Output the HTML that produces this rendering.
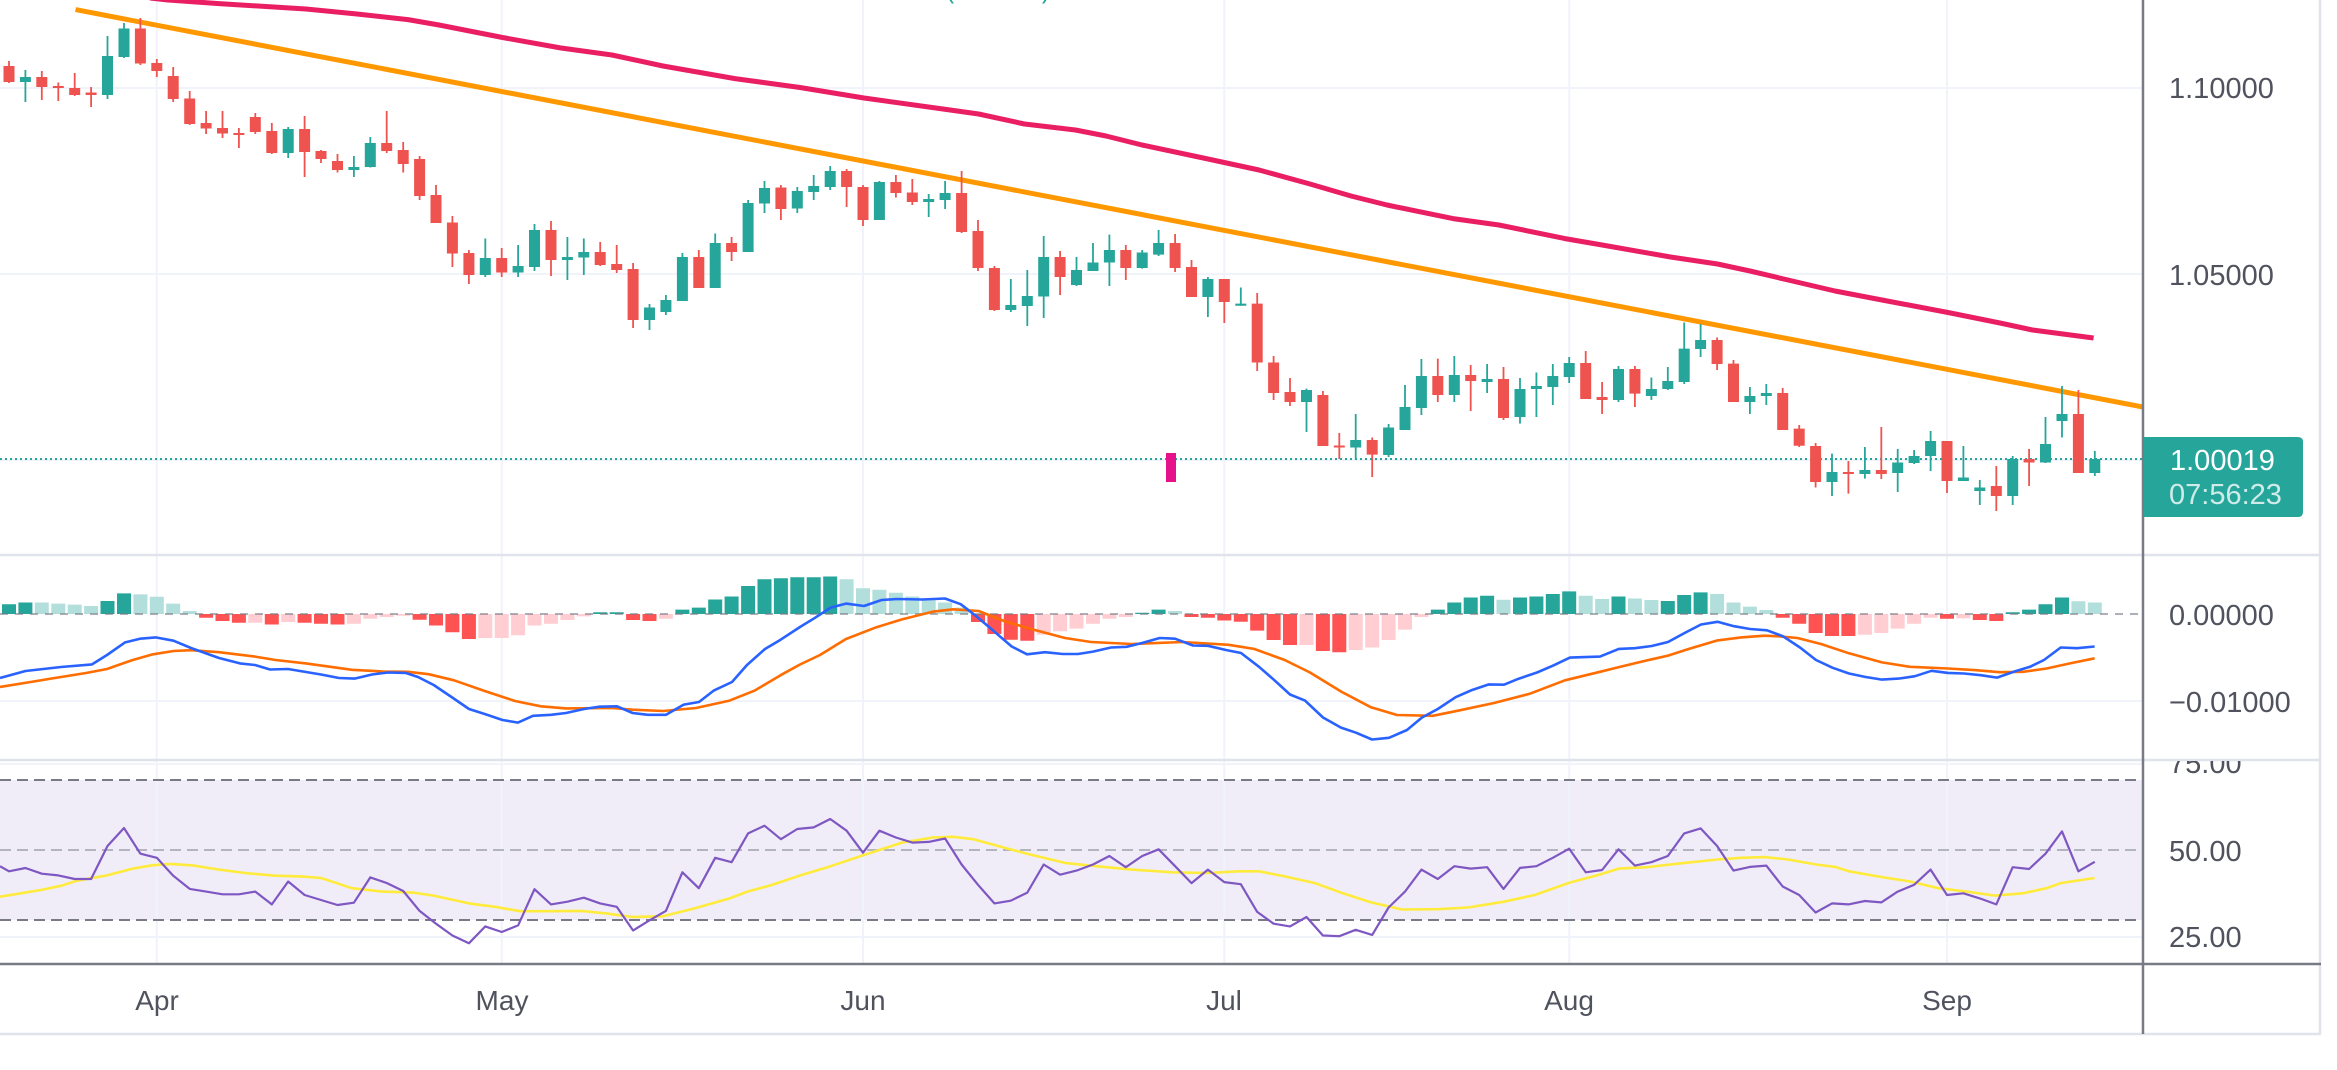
<!DOCTYPE html>
<html><head><meta charset="utf-8"><style>html,body{margin:0;padding:0;background:#fff;overflow:hidden}svg{display:block}text{font-family:"Liberation Sans",Arial,sans-serif}</style></head><body>
<svg width="2337" height="1070" viewBox="0 0 2337 1070" xmlns="http://www.w3.org/2000/svg">
<defs>
<clipPath id="cm"><rect x="0" y="0" width="2143" height="554"/></clipPath>
<clipPath id="cr"><rect x="2144" y="761" width="180" height="203"/></clipPath>
</defs>
<rect width="2337" height="1070" fill="#fff"/>
<rect x="0" y="780" width="2143" height="140" fill="#7e57c2" fill-opacity="0.11"/>
<g stroke="#f0f3fa" stroke-width="2">
<path d="M156.8 0V964M501.7 0V964M863 0V964M1224.3 0V964M1569.2 0V964M1947 0V964"/>
<path d="M0 88H2143M0 274H2143M0 460H2143M0 701H2143M0 764H2143M0 937H2143"/>
</g>
<g fill="none" stroke-width="2">
<path d="M0 780H2143M0 920H2143" stroke="#787b86" stroke-dasharray="11 6"/>
<path d="M0 850H2143" stroke="#b2b5be" stroke-dasharray="11 6"/>
</g>
<path d="M0 555H2321M0 760H2321" stroke="#e0e3eb" stroke-width="2.5"/>
<path d="M2320 0V1034M0 1034H2321" stroke="#e0e3eb" stroke-width="2.5"/>
<g clip-path="url(#cm)">
<text x="946" y="-2" font-size="26" fill="#26a69a" textLength="104" lengthAdjust="spacingAndGlyphs">(1.00019)</text>
<polyline fill="none" stroke="#e91e63" stroke-width="5" stroke-linejoin="round" points="150,-2 168,0 219,3.6 306,9 357,14 408,19.6 439,25 502.5,37.5 561,48 612,55 663,66 735,78.6 800,87.5 864,98 943,109 978.6,114 1024.5,124 1075.5,130 1106,136 1142,145 1208,159 1259,170 1310,184 1351,196 1387,205 1453,218.6 1499,225 1565,238.6 1600,244.6 1670.5,257 1717.5,264 1750,271 1788,280 1835,291 1882,300 1948,312.5 2000,323 2032.5,330 2093.6,338"/>
<line x1="75.5" y1="9.6" x2="2143" y2="407" stroke="#ff9800" stroke-width="5"/>
<line x1="0" y1="459" x2="2143" y2="459" stroke="#26a69a" stroke-width="2" stroke-dasharray="2 3"/>
<path stroke="#26a69a" stroke-width="1.8" fill="none" d="M25.4 70V102M107.5 36V99M124 23V58M288.2 127V158M353.9 156V177M370.3 137V167.5M485.3 238.5V277M518.1 245V277M534.5 224V271M567.4 237V280M583.8 238.5V275M649.5 304V330M665.9 295V315M682.4 253V301M715.2 233.5V288M748.1 200V252M764.5 181V213M797.3 187V213M813.7 175V200M830.2 166V190M879.4 181V220M928.7 194V217M945.1 181V209M1010.8 279V312M1027.3 270V326M1043.7 236V318M1076.5 257V286M1093 243V271M1109.4 234.6V286M1142.2 250V268.6M1158.6 230V256M1207.9 277V317M1240.8 287.5V305.7M1306.5 388.6V432M1355.7 414V459M1388.6 424V457M1405 385V430M1421.4 359V415M1454.3 356V402M1487.1 364V393M1520 378V423.6M1536.4 372.5V417M1552.8 364V405M1569.2 357V383M1618.5 366V402M1651.4 377.5V400M1667.8 367V390M1684.2 322.5V384M1700.6 324V357M1749.9 387V414M1766.3 384V405M1832 453.6V496M1864.9 447V478.6M1897.7 449V492M1914.1 450V464M1930.6 431V471M1963.4 446V481M1979.8 480V505M2012.7 456V505M2045.5 417V463M2062 386V437.5M2094.8 451V476"/>
<path fill="#26a69a" d="M19.9 77h11V82h-11ZM102 56h11V95h-11ZM118.5 28.5h11V57h-11ZM282.7 129h11V153h-11ZM348.4 167h11V170h-11ZM364.8 143h11V167h-11ZM479.8 258h11V275h-11ZM512.6 266h11V272.5h-11ZM529 230h11V267h-11ZM561.9 257h11V260h-11ZM578.3 252h11V257.5h-11ZM644 307.5h11V320h-11ZM660.4 300h11V312h-11ZM676.9 257h11V301h-11ZM709.7 243h11V288h-11ZM742.6 203h11V252h-11ZM759 188h11V203.5h-11ZM791.8 191h11V208.5h-11ZM808.2 186h11V192h-11ZM824.7 171h11V187h-11ZM873.9 182h11V220h-11ZM923.2 199h11V202h-11ZM939.6 193h11V200h-11ZM1005.3 305h11V310h-11ZM1021.8 296h11V306h-11ZM1038.2 257h11V296.5h-11ZM1071 270h11V285h-11ZM1087.5 262.5h11V271h-11ZM1103.9 250h11V262.5h-11ZM1136.7 252.5h11V268h-11ZM1153.1 243h11V254.6h-11ZM1202.4 279h11V297h-11ZM1235.3 303.6h11V305.7h-11ZM1301 390h11V402h-11ZM1350.2 440h11V447.5h-11ZM1383.1 427.5h11V455h-11ZM1399.5 407h11V430h-11ZM1415.9 376h11V408h-11ZM1448.8 375h11V395h-11ZM1481.6 379h11V382h-11ZM1514.5 389h11V417h-11ZM1530.9 386h11V389h-11ZM1547.3 376h11V387h-11ZM1563.7 363h11V377h-11ZM1613 369h11V400h-11ZM1645.9 389h11V396h-11ZM1662.3 381h11V389h-11ZM1678.7 348.6h11V382h-11ZM1695.1 340h11V349h-11ZM1744.4 396h11V402h-11ZM1760.8 393h11V396h-11ZM1826.5 472h11V482h-11ZM1859.4 470h11V474h-11ZM1892.2 462.5h11V473h-11ZM1908.6 456h11V463h-11ZM1925.1 441h11V456h-11ZM1957.9 477.5h11V481h-11ZM1974.3 487.5h11V491h-11ZM2007.2 459h11V496h-11ZM2040 444h11V462.5h-11ZM2056.5 414h11V421h-11ZM2089.3 459h11V473h-11Z"/>
<path stroke="#ef5350" stroke-width="1.8" fill="none" d="M9 61V83M41.8 71V100M58.3 82.5V101M74.7 73V96M91.1 87V107M140.4 18V65M156.8 59V77M173.2 67V102M189.7 91V125M206.1 111V134M222.5 111V138M238.9 128V148M255.3 113V134M271.8 123V154M304.6 116V177M321 150V163M337.5 154V172.5M386.7 111V153M403.2 142V172.5M419.6 156V200M436 185V223M452.4 216V267M468.9 250V284M501.7 248V277M551 221V276M600.2 242V266M616.7 245V273M633.1 263V328M698.8 250V288M731.6 237V261M780.9 185V220M846.6 169V207M863 185V226M895.9 175V197.5M912.3 179V205M961.6 171V233M978 220V271M994.4 266V311M1060.1 251V295M1125.8 245V280M1175.1 234V272M1191.5 260V297M1224.3 279V323M1257.2 293V371M1273.6 356V400M1290 378V406M1322.9 391V446M1339.3 433V459M1372.2 437.5V477M1437.8 358.6V402M1470.7 365V411M1503.5 367V420M1585.7 351V399M1602.1 382V414M1634.9 366V407M1717.1 337.5V370M1733.5 360V402M1782.7 388V430M1799.2 425V447M1815.6 443V487.5M1848.4 461V493.6M1881.3 427V479M1947 441V493M1996.3 466V511M2029.1 449V486M2078.4 390V473"/>
<path fill="#ef5350" d="M3.5 66h11V82h-11ZM36.3 77h11V87h-11ZM52.8 86h11V88h-11ZM69.2 88h11V95h-11ZM85.6 92.5h11V95h-11ZM134.9 28.5h11V63.5h-11ZM151.3 63h11V71h-11ZM167.7 76h11V99h-11ZM184.2 98.5h11V124h-11ZM200.6 123h11V128.5h-11ZM217 128h11V133.5h-11ZM233.4 133h11V135h-11ZM249.8 117h11V132h-11ZM266.3 131h11V153h-11ZM299.1 129h11V152h-11ZM315.5 151h11V159h-11ZM332 161h11V170h-11ZM381.2 143h11V151h-11ZM397.7 150h11V164h-11ZM414.1 159h11V196h-11ZM430.5 195h11V223h-11ZM446.9 222.5h11V253.5h-11ZM463.4 253h11V275h-11ZM496.2 258h11V272.5h-11ZM545.5 230h11V260h-11ZM594.7 252h11V265h-11ZM611.2 264h11V270h-11ZM627.6 269h11V320h-11ZM693.3 257h11V288h-11ZM726.1 243h11V252h-11ZM775.4 187.5h11V209h-11ZM841.1 171h11V187h-11ZM857.5 187h11V220h-11ZM890.4 182h11V193h-11ZM906.8 192.5h11V202h-11ZM956.1 193h11V232h-11ZM972.5 231h11V268h-11ZM988.9 268h11V310h-11ZM1054.6 257h11V277h-11ZM1120.3 250h11V268h-11ZM1169.6 243h11V268h-11ZM1186 267h11V297h-11ZM1218.8 279h11V302h-11ZM1251.7 303.6h11V362.5h-11ZM1268.1 362.5h11V393h-11ZM1284.5 392h11V402h-11ZM1317.4 395h11V446h-11ZM1333.8 445.5h11V447.5h-11ZM1366.7 440h11V454.6h-11ZM1432.3 376h11V395h-11ZM1465.2 375h11V381h-11ZM1498 379h11V418h-11ZM1580.2 363h11V399h-11ZM1596.6 397h11V400h-11ZM1629.4 369h11V393.6h-11ZM1711.6 340h11V364h-11ZM1728 363.6h11V402h-11ZM1777.2 393h11V430h-11ZM1793.7 428.6h11V445.7h-11ZM1810.1 446h11V482h-11ZM1842.9 472h11V474h-11ZM1875.8 470h11V474h-11ZM1941.5 441h11V481h-11ZM1990.8 486h11V496h-11ZM2023.6 459h11V462.5h-11ZM2072.9 414h11V473h-11Z"/>
<rect x="1166" y="453" width="10" height="29" fill="#e6128a"/>
</g>
<path fill="#26a69a" d="M2 604.2h14V614h-14ZM18.4 602.5h14V614h-14ZM100.5 601h14V614h-14ZM117 593.4h14V614h-14ZM593.2 612.3h14V614h-14ZM609.7 612.3h14V614h-14ZM675.4 609.6h14V614h-14ZM691.8 607.6h14V614h-14ZM708.2 599.5h14V614h-14ZM724.6 596.5h14V614h-14ZM741.1 586h14V614h-14ZM757.5 579.2h14V614h-14ZM773.9 578.2h14V614h-14ZM790.3 577.2h14V614h-14ZM806.7 577.2h14V614h-14ZM823.2 576.5h14V614h-14ZM1135.2 612.7h14V614h-14ZM1151.6 609.6h14V614h-14ZM1430.8 609.6h14V614h-14ZM1447.3 602.5h14V614h-14ZM1463.7 597.5h14V614h-14ZM1480.1 595.8h14V614h-14ZM1513 597.5h14V614h-14ZM1529.4 596.5h14V614h-14ZM1545.8 594h14V614h-14ZM1562.2 591.4h14V614h-14ZM1611.5 596.5h14V614h-14ZM1660.8 601h14V614h-14ZM1677.2 595h14V614h-14ZM1693.6 592.4h14V614h-14ZM2005.7 612.3h14V614h-14ZM2022.1 609.6h14V614h-14ZM2038.5 604.2h14V614h-14ZM2055 597.5h14V614h-14Z"/>
<path fill="#b2dfdb" d="M34.8 602.5h14V614h-14ZM51.3 603.6h14V614h-14ZM67.7 604.6h14V614h-14ZM84.1 606h14V614h-14ZM133.4 594.4h14V614h-14ZM149.8 596.8h14V614h-14ZM166.2 603.6h14V614h-14ZM182.7 611h14V614h-14ZM839.6 579.2h14V614h-14ZM856 588.3h14V614h-14ZM872.4 589.7h14V614h-14ZM888.9 592.7h14V614h-14ZM905.3 596.5h14V614h-14ZM921.7 598.5h14V614h-14ZM938.1 602.5h14V614h-14ZM954.6 607.6h14V614h-14ZM1168.1 611h14V614h-14ZM1496.5 599.8h14V614h-14ZM1578.7 595.8h14V614h-14ZM1595.1 599h14V614h-14ZM1627.9 598.5h14V614h-14ZM1644.4 600h14V614h-14ZM1710.1 594h14V614h-14ZM1726.5 602.5h14V614h-14ZM1742.9 606.6h14V614h-14ZM1759.3 610h14V614h-14ZM2071.4 601.2h14V614h-14ZM2087.8 602.5h14V614h-14Z"/>
<path fill="#ff5252" d="M199.1 614h14V617.8h-14ZM215.5 614h14V621h-14ZM231.9 614h14V622.8h-14ZM264.8 614h14V624.5h-14ZM297.6 614h14V622.8h-14ZM314 614h14V623.8h-14ZM330.5 614h14V624.5h-14ZM412.6 614h14V619.8h-14ZM429 614h14V625.5h-14ZM445.4 614h14V632.3h-14ZM461.9 614h14V639h-14ZM626.1 614h14V620h-14ZM642.5 614h14V621h-14ZM971 614h14V622h-14ZM987.4 614h14V634h-14ZM1003.8 614h14V639.7h-14ZM1020.3 614h14V640.7h-14ZM1184.5 614h14V617h-14ZM1200.9 614h14V617.8h-14ZM1217.3 614h14V620.5h-14ZM1233.8 614h14V621.8h-14ZM1250.2 614h14V630.6h-14ZM1266.6 614h14V640h-14ZM1283 614h14V645h-14ZM1315.9 614h14V651h-14ZM1332.3 614h14V652.2h-14ZM1775.7 614h14V617.8h-14ZM1792.2 614h14V623.8h-14ZM1808.6 614h14V633h-14ZM1825 614h14V636h-14ZM1841.4 614h14V636h-14ZM1940 614h14V618.8h-14ZM1972.8 614h14V620h-14ZM1989.3 614h14V621h-14Z"/>
<path fill="#ffcdd2" d="M248.3 614h14V622.8h-14ZM281.2 614h14V622h-14ZM346.9 614h14V623.8h-14ZM363.3 614h14V618.8h-14ZM379.7 614h14V617h-14ZM396.2 614h14V615.7h-14ZM478.3 614h14V638h-14ZM494.7 614h14V638h-14ZM511.1 614h14V635.3h-14ZM527.5 614h14V625.5h-14ZM544 614h14V623.8h-14ZM560.4 614h14V620h-14ZM576.8 614h14V616.4h-14ZM658.9 614h14V618.8h-14ZM1036.7 614h14V634.7h-14ZM1053.1 614h14V631.3h-14ZM1069.5 614h14V628.6h-14ZM1086 614h14V623.8h-14ZM1102.4 614h14V618.8h-14ZM1118.8 614h14V617h-14ZM1299.5 614h14V645h-14ZM1348.7 614h14V650h-14ZM1365.2 614h14V647.5h-14ZM1381.6 614h14V640h-14ZM1398 614h14V629.6h-14ZM1414.4 614h14V617h-14ZM1857.9 614h14V634.7h-14ZM1874.3 614h14V633h-14ZM1890.7 614h14V628.6h-14ZM1907.1 614h14V623.8h-14ZM1923.6 614h14V617.8h-14ZM1956.4 614h14V618.4h-14Z"/>
<line x1="0" y1="614" x2="2143" y2="614" stroke="#787b86" stroke-opacity="0.6" stroke-width="2" stroke-dasharray="8 7"/>
<polyline fill="none" stroke="#ff6d00" stroke-width="2.6" stroke-linejoin="round" points="0,687 30.6,682 51,678.6 86.7,672.9 107,669 132.7,660 153,654.3 173.5,651 191,650.2 219,652.2 255,656.6 275.5,660 306,663.4 352,669.8 382.6,671.5 408,671.8 428.6,674.2 454,680.3 484.7,691 515,701 540.8,706.3 566,708.4 612,708 632.6,709.7 663,711 696,708 729.6,700.6 755,690.4 780.6,675.2 800,664.5 820,655 846,639 876.5,627.2 902,619.4 932.6,611.7 953,609.3 978.6,611 1004,621 1029.6,628.6 1065,638 1091,642 1131.6,644 1182.6,642 1228.6,644.8 1254,648.9 1284.7,660 1310,672.5 1341,691.5 1371,707.3 1397,715 1432.7,715.8 1458,710.7 1494,703 1529.6,693.8 1565,680.3 1600,671.8 1623.5,666 1647,660.4 1668,655.6 1689,648.9 1717.5,640.4 1741,637.4 1764.5,635.7 1778.6,636.3 1797.5,638 1821,644 1849,653.3 1882,662.4 1910,666.8 1948,668.5 1976,670.2 1999.6,672.2 2023,671.8 2046.6,668.5 2070,663.4 2094.6,658.3"/>
<polyline fill="none" stroke="#2962ff" stroke-width="2.6" stroke-linejoin="round" points="0,678 25.5,671 61,667 92,664.4 107,655 125,642.4 140,638.7 155.6,637.4 173.5,640.7 191,648 219,658 240,663.4 255,665 270,669.5 288,669 321,674.5 339,678 354.6,678.6 372,674.5 388,672.5 405.6,672.9 418,677 433.7,685 451.5,697 469,709 484.7,714 502.5,720 518,722.6 533,715.8 551,714.8 566,713 584,709 599.5,706.7 617,706.3 632.6,713 648,714.8 666,714.8 683.7,704.6 699,702 714,690.4 732,682 747,665 765,649 780.6,639.7 800,627 815,617.8 830.6,607.6 846,603.6 864,606 881.6,600 897,599 922,599.5 945,598.5 960.7,604.2 976,616 994,631.3 1011.7,646.5 1027,654.3 1045,652.2 1062.7,654 1078,654 1093,651.6 1111,647.5 1126.5,646.8 1142,643 1159.7,638 1175,638.7 1193,645.5 1208,645.8 1226,650 1241,653 1259,666.8 1274.5,680.3 1290,694.5 1305,700.6 1323,717.5 1341,727.6 1356,732.7 1372,739.5 1389,737.8 1407,730 1422,717.5 1437.8,709 1455.6,697.2 1471,690.4 1488.8,684.4 1504,684.7 1519,678.6 1537,672.5 1552.6,665.8 1570,657.6 1600,656.6 1618.8,648.9 1635,648.2 1651.7,646 1668,642 1684.6,633 1701,624.5 1717.5,621.8 1734,626.2 1750,629 1767,630.3 1783,636.3 1800,647.5 1816,660 1832.7,667.8 1849,673.5 1865.6,677 1882,679.6 1898.5,678.6 1915,676.2 1931.5,670.8 1948,672.9 1964,673.5 1980.8,675.2 1997,677.6 2013.7,671.8 2030,666.8 2044,660 2060.7,647.5 2077,648.2 2094.6,646.5"/>
<polyline fill="none" stroke="#ffeb3b" stroke-width="2.6" stroke-linejoin="round" points="0,896.7 41,890 61,885.8 76.5,880.8 107,875.4 132.7,868.6 153,865.2 171,863.9 194,865.6 219,869.6 245,873 275.5,875.7 301,876.4 321,878 352,888.2 382.6,891.6 413,892.6 433.7,895.6 469,903.4 495,906.8 520,911.2 551,911.2 581.6,910.9 607,913.6 632.6,917 663,916.3 694,908.5 729.6,898.4 747.4,891.6 770,885.5 800,875.5 830.6,866.2 861,856 902,842.6 932.6,837.5 953,836.8 973.5,839.2 1004,847.6 1029.6,854.4 1065,862.9 1096,866.2 1131.6,869.6 1172.4,872.3 1208,873 1238.8,871.3 1259,871.3 1284.7,876.4 1315,883.1 1341,892.6 1371,902.4 1402,909.5 1437.8,909.2 1468,907.5 1504,901.7 1534.7,895 1570,882.5 1600,874.5 1618.8,868.6 1647,867.2 1684.6,862.9 1717.5,859.5 1741,857.8 1764.5,857.1 1788,859.5 1816,864.5 1835,866.9 1849,871.3 1882,877.1 1910,881.5 1938.5,888.2 1966.7,891.6 1995,895.6 2023,893.3 2046.6,888.2 2060.7,883.1 2094.6,878"/>
<polyline fill="none" stroke="#7e57c2" stroke-width="2.2" stroke-linejoin="round" points="0,866.2 9,871.3 25.4,868 41.8,873.7 58.3,875.4 74.7,879 91.1,879 107.5,846 124,828 140.4,853.7 156.8,857.8 173.2,875.7 189.7,888.9 206.1,891.6 222.5,894.3 238.9,894.3 255.3,891.6 271.8,904.4 288.2,881.5 304.6,895 321,900 337.5,905 353.9,902.7 370.3,877.4 386.7,883 403.2,891 419.6,910.9 436,923.7 452.4,935.5 468.9,943.3 485.3,926.4 501.7,932 518.1,925.4 534.5,889.2 551,904.4 567.4,901.7 583.8,897.7 600.2,903.4 616.7,906.8 633.1,930.5 649.5,920.3 665.9,910.9 682.4,872.3 698.8,888.2 715.2,857.8 731.6,862.2 748.1,833.4 764.5,825.7 780.9,839.2 797.3,829 813.7,827.4 830.2,819 846.6,830.7 863,852.7 879.4,830.7 895.9,837.5 912.3,842.6 928.7,841.9 945.1,838.5 961.6,864.5 978,884.8 994.4,903.4 1010.8,900.7 1027.3,892.6 1043.7,864.5 1060.1,874.7 1076.5,870.6 1093,864.5 1109.4,856 1125.8,867.2 1142.2,856 1158.6,849.3 1175.1,866.2 1191.5,883.1 1207.9,869.6 1224.3,882.1 1240.8,884.2 1257.2,911.9 1273.6,923.7 1290,926.4 1306.5,917 1322.9,935.5 1339.3,936.2 1355.7,929.8 1372.2,934.9 1388.6,907.5 1405,891.6 1421.4,869.6 1437.8,879 1454.3,866.2 1470.7,868.6 1487.1,867.2 1503.5,888.9 1520,867.9 1536.4,866.2 1552.8,857.8 1569.2,848.7 1585.7,872.3 1602.1,870 1618.5,849.3 1634.9,865.6 1651.4,862.2 1667.8,856 1684.2,833.4 1700.6,828.4 1717.1,846 1733.5,870.6 1749.9,866.9 1766.3,865.6 1782.7,886.5 1799.2,895 1815.6,912.5 1832,903.4 1848.4,904.4 1864.9,901 1881.3,902.4 1897.7,891.6 1914.1,884.8 1930.6,869.6 1947,895 1963.4,893.3 1979.8,898.4 1996.3,904.4 2012.7,867.2 2029.1,869 2045.5,853.7 2062,831.4 2078.4,871.3 2094.8,861.8"/>
<line x1="0" y1="964" x2="2321" y2="964" stroke="#787b86" stroke-width="2.5"/>
<line x1="2143" y1="0" x2="2143" y2="1034" stroke="#787b86" stroke-width="2.5"/>
<g font-size="29" fill="#50535e">
<text x="2169" y="98">1.10000</text>
<text x="2169" y="285">1.05000</text>
<text x="2169" y="625">0.00000</text>
<text x="2169" y="712">−0.01000</text>
<text x="2169" y="861">50.00</text>
<text x="2169" y="947">25.00</text>
<text x="2169" y="773" clip-path="url(#cr)">75.00</text>
</g>
<path d="M2144 437H2298Q2303 437 2303 442V512Q2303 517 2298 517H2144Z" fill="#26a69a"/>
<text x="2170" y="470" font-size="29" fill="#fff">1.00019</text>
<text x="2169" y="504" font-size="29" fill="#fff" fill-opacity="0.78">07:56:23</text>
<g font-size="28" fill="#50535e" text-anchor="middle">
<text x="157" y="1010">Apr</text>
<text x="502" y="1010">May</text>
<text x="863" y="1010">Jun</text>
<text x="1224" y="1010">Jul</text>
<text x="1569" y="1010">Aug</text>
<text x="1947" y="1010">Sep</text>
</g>
</svg>
</body></html>
